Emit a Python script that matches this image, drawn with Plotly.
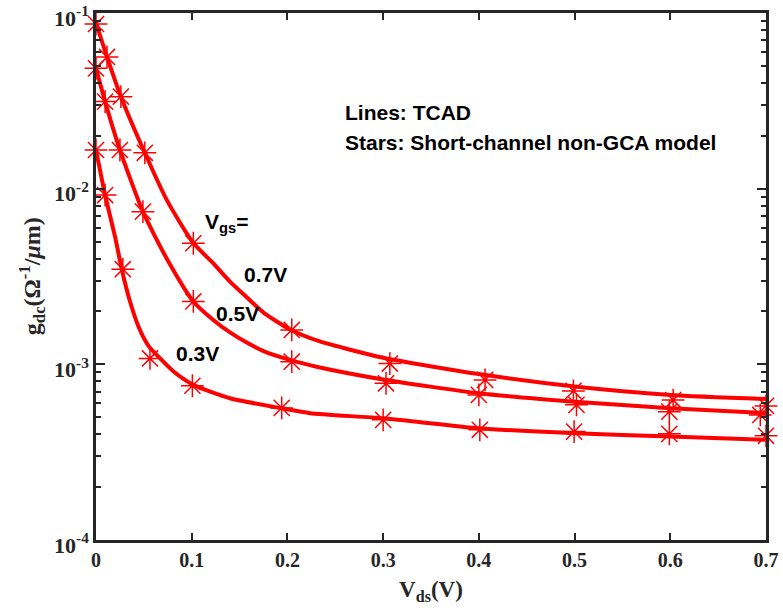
import math
import plotly.graph_objects as go

# TCAD lines (x in V, g in 1/(ohm*um))
line_x_07 = [0.0, 0.0115, 0.026, 0.051, 0.074, 0.1017, 0.1225, 0.14, 0.1575, 0.175, 0.2027, 0.234, 0.3, 0.4, 0.5, 0.6, 0.7]
line_07 = [0.088, 0.0562, 0.0334, 0.016, 0.0086, 0.0049, 0.00376, 0.00296, 0.00241, 0.00197, 0.00158, 0.00135, 0.00109, 0.00088, 0.000748, 0.00067, 0.000635]
line_x_05 = [0.0, 0.0095, 0.025, 0.049, 0.075, 0.1017, 0.1225, 0.14, 0.1575, 0.175, 0.2027, 0.234, 0.3, 0.4, 0.5, 0.6, 0.7]
line_05 = [0.0484, 0.0313, 0.0166, 0.0074, 0.0039, 0.00228, 0.00179, 0.00152, 0.00133, 0.00119, 0.00106, 0.00096, 0.00082, 0.000684, 0.000613, 0.000562, 0.000527]
line_x_03 = [0.0, 0.0095, 0.02, 0.0268, 0.035, 0.045, 0.055, 0.067, 0.081, 0.1017, 0.14, 0.194, 0.2236, 0.3, 0.4, 0.5, 0.6, 0.7]
line_03 = [0.0166, 0.0092, 0.0053, 0.0035, 0.00233, 0.00161, 0.00127, 0.00108, 0.00091, 0.000764, 0.000641, 0.000562, 0.000527, 0.000493, 0.000433, 0.000405, 0.000388, 0.000372]

# Short-channel non-GCA model (stars)
star_x_07 = [0.0, 0.0115, 0.026, 0.051, 0.1017, 0.2045, 0.307, 0.4065, 0.4988, 0.603, 0.7]
star_y_07 = [0.0866, 0.0562, 0.0334, 0.0160, 0.00489, 0.00157, 0.00101, 0.000815, 0.000706, 0.000626, 0.00058]
star_x_05 = [0.0, 0.0095, 0.025, 0.049, 0.1017, 0.2045, 0.303, 0.400, 0.502, 0.599, 0.694]
star_y_05 = [0.0484, 0.0313, 0.0166, 0.0074, 0.00228, 0.001035, 0.00078, 0.00067, 0.000588, 0.000538, 0.000515]
star_x_03 = [0.0, 0.0095, 0.028, 0.0564, 0.1007, 0.194, 0.300, 0.401, 0.4995, 0.599, 0.70]
star_y_03 = [0.0166, 0.0092, 0.00348, 0.00108, 0.000755, 0.000565, 0.000483, 0.000424, 0.000414, 0.000402, 0.000392]

x_ticks = [0, 0.1, 0.2, 0.3, 0.4, 0.5, 0.6, 0.7]
x_tick_text = ["0", "0.1", "0.2", "0.3", "0.4", "0.5", "0.6", "0.7"]
y_ticks = [1e-4, 1e-3, 1e-2, 1e-1]
y_tick_text = ["10<sup>-4</sup>", "10<sup>-3</sup>", "10<sup>-2</sup>", "10<sup>-1</sup>"]
y_minor = [m * 10 ** e for e in (-4, -3, -2) for m in range(2, 10)]

RED = "#FF0000"
AX = "#262626"
fig = go.Figure()
for lx, ly in ((line_x_07, line_07), (line_x_05, line_05), (line_x_03, line_03)):
    fig.add_trace(go.Scatter(x=lx, y=ly, mode="lines", line=dict(color=RED, width=4, shape="spline", smoothing=0.6),
                             showlegend=False, hoverinfo="skip"))
for sx, sy in ((star_x_07, star_y_07), (star_x_05, star_y_05), (star_x_03, star_y_03)):
    fig.add_trace(go.Scatter(x=sx, y=sy, mode="markers",
                             marker=dict(symbol="asterisk-open", size=19, color=RED, line=dict(color=RED, width=1.5)),
                             showlegend=False, cliponaxis=False))

serif = "Liberation Serif"
fig.update_layout(
    width=783, height=613,
    margin=dict(l=96, r=17, t=13, b=73),
    plot_bgcolor="white", paper_bgcolor="white",
    xaxis=dict(range=[0, 0.7], tickvals=x_ticks, ticktext=x_tick_text, ticks="inside", ticklen=7, tickwidth=2,
               showline=True, linecolor=AX, linewidth=2.5, mirror="ticks", showgrid=False, zeroline=False,
               automargin=False, tickcolor=AX, ticklabeloverflow="allow",
               tickfont=dict(family=serif, size=20, color=AX, weight="bold"),
               title=dict(text="V<sub>ds</sub>(V)", font=dict(family=serif, size=23, color=AX, weight="bold"), standoff=12)),
    yaxis=dict(type="log", range=[-4, -1], tickvals=y_ticks, ticktext=y_tick_text, ticks="inside", ticklen=9, tickwidth=2,
               showline=True, linecolor=AX, linewidth=2.5, mirror="ticks", showgrid=False, zeroline=False,
               automargin=False, tickcolor=AX, ticklabeloverflow="allow", ticklabelshift=5,
               minor=dict(tickvals=y_minor, ticks="inside", ticklen=5, tickwidth=1.5, tickcolor=AX, showgrid=False),
               tickfont=dict(family=serif, size=22, color=AX, weight="bold")),
)

# y-axis title as a rotated annotation for precise placement
fig.add_annotation(x=-0.096, y=0.50, xref="paper", yref="paper", xanchor="center", yanchor="middle",
                   text="g<sub>dc</sub>(\u03a9<sup>-1</sup>/<i>\u03bc</i>m)", textangle=-90, showarrow=False,
                   font=dict(family=serif, size=24, color=AX, weight="bold"))

sans = "Liberation Sans"
ann_font = dict(family=sans, size=21, color="black", weight="bold")
anns = [
    ("Lines: TCAD", 0.258, 0.0270),
    ("Stars: Short-channel non-GCA model", 0.258, 0.0182),
    ("V<sub>gs</sub>=", 0.1118, 0.0064),
    ("0.7V", 0.1529, 0.00323),
    ("0.5V", 0.1233, 0.00194),
    ("0.3V", 0.0815, 0.00115),
]
for txt, ax, ay in anns:
    fig.add_annotation(x=ax, y=math.log10(ay), yref="y", xref="x", text=txt, showarrow=False,
                       xanchor="left", yanchor="middle", font=ann_font)

fig.write_html("out.html", config={"displayModeBar": False}, post_script="document.body.style.margin='0';")
